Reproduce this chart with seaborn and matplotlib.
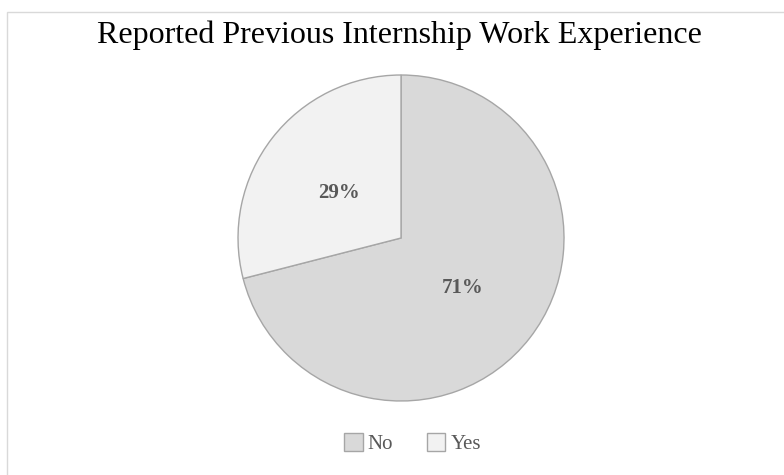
import numpy as np
import matplotlib
matplotlib.use("Agg")
import matplotlib.pyplot as plt
import seaborn as sns
from matplotlib.patches import Rectangle, Patch

# data
categories = ['No', 'Yes']
shares = [71, 29]
slice_colors = ['#d9d9d9', '#f2f2f2']

sns.set_theme(style='white')
plt.rcParams['font.family'] = ['Liberation Serif', 'DejaVu Serif']

fig = plt.figure(figsize=(7.84, 4.75), dpi=100)
# light frame around the chart area (runs off the right/bottom edges)
fig.patches.append(Rectangle((0.009, -0.02), 1.05, 0.995, transform=fig.transFigure,
                             fill=False, edgecolor='#d9d9d9', linewidth=1.0))

ax = fig.add_axes([0.3036, 0.1558, 0.4158, 0.6863])
wedges, texts, autotexts = ax.pie(
    shares, colors=slice_colors, startangle=90, counterclock=False,
    autopct='%1.0f%%', pctdistance=0.48,
    wedgeprops=dict(edgecolor='#a6a6a6', linewidth=1.0),
    textprops=dict(color='#595959', fontsize=15, fontweight='bold'))
for t in autotexts:
    t.set_va('center_baseline')
ax.set_xlim(-1, 1)
ax.set_ylim(-1, 1)
ax.set_aspect('equal')

fig.text(0.51, 0.926, 'Reported Previous Internship Work Experience',
         ha='center', va='center', fontsize=23, color='black')

handles = [Patch(facecolor=c, edgecolor='#a6a6a6', label=l) for c, l in zip(slice_colors, categories)]
fig.legend(handles=handles, loc='center', bbox_to_anchor=(0.526, 0.066), ncol=2, frameon=False,
           fontsize=15, labelcolor='#595959', handlelength=0.9, handleheight=0.9,
           handletextpad=0.25, columnspacing=1.6)

plt.savefig('out.png', dpi=100)
